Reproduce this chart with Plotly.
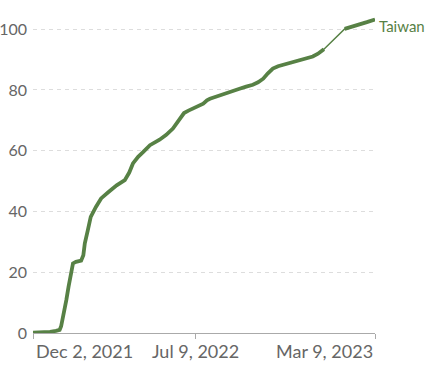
import plotly.graph_objects as go

dates = [
    "2021-12-02", "2021-12-14", "2021-12-25", "2022-01-02", "2022-01-07", "2022-01-09",
    "2022-01-11", "2022-01-13", "2022-01-16", "2022-01-19", "2022-01-22", "2022-01-25",
    "2022-01-29", "2022-02-01", "2022-02-05", "2022-02-08", "2022-02-10", "2022-02-14",
    "2022-02-18", "2022-02-25", "2022-03-04", "2022-03-14", "2022-03-25", "2022-04-05",
    "2022-04-11", "2022-04-16", "2022-04-23", "2022-04-30", "2022-05-09", "2022-05-22",
    "2022-05-31", "2022-06-09", "2022-06-14", "2022-06-18", "2022-06-22", "2022-06-24",
    "2022-06-30", "2022-07-06", "2022-07-12", "2022-07-20", "2022-07-25", "2022-07-29",
    "2022-08-09", "2022-08-20", "2022-08-29", "2022-09-07", "2022-09-16", "2022-09-25",
    "2022-10-02", "2022-10-09", "2022-10-15", "2022-10-22", "2022-10-29", "2022-11-05",
    "2022-11-16", "2022-11-27", "2022-12-06", "2022-12-15", "2022-12-22", "2022-12-30",
    "2023-01-27", "2023-02-07", "2023-02-16", "2023-02-26", "2023-03-09",
]
values = [
    0.1, 0.2, 0.4, 0.7, 1.0, 2.2,
    4.3, 7.0, 10.8, 15.2, 18.5, 22.9,
    23.4, 23.6, 23.8, 25.6, 29.5, 33.8,
    38.2, 41.5, 44.3, 46.4, 48.6, 50.3,
    52.8, 55.8, 58.0, 59.6, 61.8, 63.6,
    65.2, 67.3, 69.0, 70.0, 71.6, 72.4,
    73.2, 73.8, 74.5, 75.5, 76.6, 77.1,
    78.0, 79.0, 79.8, 80.4, 81.1, 81.7,
    82.5, 83.7, 85.4, 87.0, 87.8, 88.3,
    89.0, 89.7, 90.4, 91.0, 91.9, 93.4,
    100.1, 100.8, 101.5, 102.3, 103.2,
]
# reporting gap (no daily data) between these dates
gap_after = "2022-12-30"

series_name = "Taiwan"
tick_dates = ["2021-12-02", "2022-07-09", "2023-03-09"]
tick_labels = ["Dec 2, 2021", "Jul 9, 2022", "Mar 9, 2023"]
y_ticks = [0, 20, 40, 60, 80, 100]

color = "#578145"
font = "Lato, 'Open Sans', sans-serif"

# dense (daily) segments drawn thick, gap drawn thin
dense_x, dense_y = [], []
for d, v in zip(dates, values):
    dense_x.append(d)
    dense_y.append(v)
    if d == gap_after:
        dense_x.append(None)
        dense_y.append(None)

fig = go.Figure()
fig.add_trace(go.Scatter(x=dates, y=values, mode="lines",
                         line=dict(color=color, width=1.5),
                         hoverinfo="skip", showlegend=False, cliponaxis=False))
fig.add_trace(go.Scatter(x=dense_x, y=dense_y, mode="lines",
                         line=dict(color=color, width=3.8),
                         connectgaps=False, name=series_name,
                         showlegend=False, cliponaxis=False))

fig.add_annotation(x=dates[-1], y=values[-1], text=series_name, showarrow=False,
                   xanchor="left", yanchor="middle", xshift=2, yshift=-7,
                   font=dict(color=color, size=15, family=font))

anchors = ["left", "center", "right"]
for td, tl, an in zip(tick_dates, tick_labels, anchors):
    fig.add_annotation(x=td, y=0, yref="paper", text=tl, showarrow=False,
                       xanchor=an, yanchor="top", yshift=-5,
                       xshift=(1 if an == "left" else 0),
                       font=dict(color="#666666", size=18, family=font))

fig.update_layout(
    width=426, height=372,
    margin=dict(l=33, r=51, t=17, b=39, autoexpand=False),
    paper_bgcolor="white", plot_bgcolor="white",
    font=dict(family=font, color="#666666", size=16),
    xaxis=dict(type="date", range=[tick_dates[0], tick_dates[-1]],
               tickvals=tick_dates, showticklabels=False, automargin=False,
               ticks="outside", ticklen=5, tickcolor="#aaaaaa",
               showgrid=False, showline=True, linecolor="#aaaaaa",
               linewidth=1, zeroline=False),
    yaxis=dict(range=[0, 104], tickvals=y_ticks, ticks="", automargin=False,
               showgrid=True, gridcolor="#dddddd", griddash="4px,4px",
               gridwidth=1, zeroline=False, showline=False,
               tickfont=dict(size=16, color="#666666"), ticklabelstandoff=5),
)

fig.write_html("out.html", config={"displayModeBar": False},
               post_script="document.body.style.margin='0';document.body.style.overflow='hidden';")
